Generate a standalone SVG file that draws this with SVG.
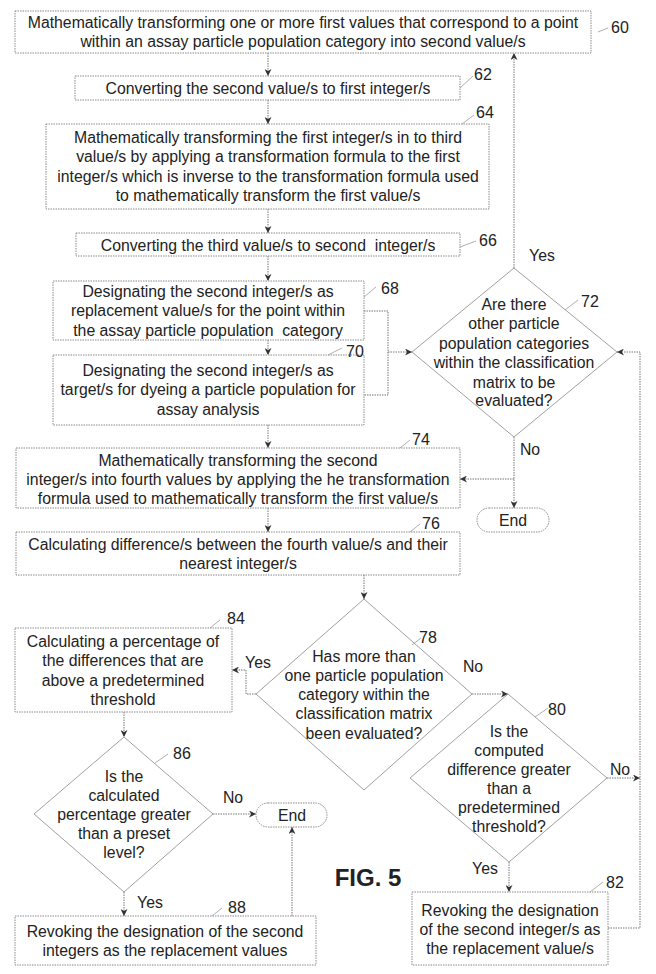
<svg xmlns="http://www.w3.org/2000/svg" width="656" height="974" viewBox="0 0 656 974">
<defs>
<marker id="ah" viewBox="0 0 10 10" refX="10" refY="5" markerWidth="7" markerHeight="7" markerUnits="userSpaceOnUse" orient="auto">
<path d="M0,0 L10,5 L0,10 L3,5 Z" fill="#333"/>
</marker>
<style>
.box{fill:#fff;stroke:#8a8a8a;stroke-width:1;stroke-dasharray:1.5 1}
.dia{fill:#fff;stroke:#a0a0a0;stroke-width:1}
.oval{fill:#fff;stroke:#8a8a8a;stroke-width:1;stroke-dasharray:1.5 1}
.c{fill:none;stroke:#777;stroke-width:1;stroke-dasharray:1.5 1}
.ca{fill:none;stroke:#777;stroke-width:1;stroke-dasharray:1.5 1;marker-end:url(#ah)}
.ld{fill:none;stroke:#999;stroke-width:0.8}
text{font-family:"Liberation Sans",Arial,sans-serif;font-size:15.8px;fill:#222;text-anchor:middle}
.lb{font-size:16px}
.fig{font-size:24px;font-weight:bold}
</style>
</defs>
<g id="connectors">
<line class="ca" x1="268" y1="53" x2="268" y2="76"/>
<line class="ca" x1="268" y1="100" x2="268" y2="124"/>
<line class="ca" x1="268" y1="209" x2="268" y2="233"/>
<line class="ca" x1="268" y1="256" x2="268" y2="281"/>
<line class="ca" x1="268" y1="340" x2="268" y2="355"/>
<line class="ca" x1="268" y1="425" x2="268" y2="448"/>
<line class="ca" x1="268" y1="508" x2="268" y2="532"/>
<line class="ca" x1="364" y1="575" x2="364" y2="599"/>
<polyline class="c" points="364,311 388,311 388,395 364,395"/>
<line class="ca" x1="388" y1="352" x2="412" y2="352"/>
<line class="ca" x1="514" y1="268" x2="514" y2="53"/>
<line class="ca" x1="514" y1="437" x2="514" y2="508"/>
<line class="ca" x1="514" y1="479" x2="460" y2="479"/>
<polyline class="ca" points="256,694 246,694 246,670 232,670"/>
<line class="ca" x1="472" y1="694" x2="508" y2="694"/>
<line class="ca" x1="607" y1="778" x2="640" y2="778"/>
<polyline class="ca" points="608,928 640,928 640,352 617,352"/>
<line class="ca" x1="509" y1="862" x2="509" y2="892"/>
<line class="ca" x1="124" y1="712" x2="124" y2="737"/>
<line class="ca" x1="213" y1="814" x2="256" y2="814"/>
<line class="ca" x1="124" y1="892" x2="124" y2="916"/>
<line class="ca" x1="292" y1="916" x2="292" y2="827"/>
</g>
<g id="n60">
<rect class="box" x="15" y="11" width="576" height="42"/>
<text x="303" y="28">Mathematically transforming one or more first values that correspond to a point</text>
<text x="303" y="47">within an assay particle population category into second value/s</text>
<line class="ld" x1="598" y1="32" x2="608" y2="28"/>
<text class="lb" x="620" y="33">60</text>
</g>
<g id="n62">
<rect class="box" x="75" y="76" width="385" height="24"/>
<text x="268" y="93.5">Converting the second value/s to first integer/s</text>
<line class="ld" x1="460" y1="88" x2="473" y2="76"/>
<text class="lb" x="483" y="80">62</text>
</g>
<g id="n64">
<rect class="box" x="46" y="124" width="443" height="85"/>
<text x="268" y="142.5">Mathematically transforming the first integer/s in to third</text>
<text x="268" y="162">value/s by applying a transformation formula to the first</text>
<text x="268" y="181.5">integer/s which is inverse to the transformation formula used</text>
<text x="268" y="201">to mathematically transform the first value/s</text>
<line class="ld" x1="462" y1="124" x2="474" y2="115"/>
<text class="lb" x="485" y="118">64</text>
</g>
<g id="n66">
<rect class="box" x="76" y="233" width="384" height="23"/>
<text x="268" y="250.5" xml:space="preserve">Converting the third value/s to second  integer/s</text>
<line class="ld" x1="460" y1="247" x2="476" y2="241"/>
<text class="lb" x="488" y="246">66</text>
</g>
<g id="n68">
<rect class="box" x="53" y="281" width="311" height="59"/>
<text x="208" y="296.5">Designating the second integer/s as</text>
<text x="208" y="316">replacement value/s for the point within</text>
<text x="208" y="335.5" xml:space="preserve">the assay particle population  category</text>
<line class="ld" x1="364" y1="297" x2="376" y2="287"/>
<text class="lb" x="390" y="294">68</text>
</g>
<g id="n70">
<rect class="box" x="53" y="355" width="311" height="70"/>
<text x="208" y="375.5">Designating the second integer/s as</text>
<text x="208" y="395">target/s for dyeing a particle population for</text>
<text x="208" y="414.5">assay analysis</text>
<line class="ld" x1="328" y1="355" x2="342" y2="348"/>
<text class="lb" x="355" y="357">70</text>
</g>
<g id="n72">
<polygon class="dia" points="514,268 617,352 514,437 412,352"/>
<text x="514" y="309.5">Are there</text>
<text x="514" y="329">other particle</text>
<text x="514" y="348.5">population categories</text>
<text x="514" y="368">within the classification</text>
<text x="514" y="387.5">matrix to be</text>
<text x="514" y="406">evaluated?</text>
<line class="ld" x1="565" y1="310" x2="578" y2="300"/>
<text class="lb" x="590" y="307">72</text>
<text x="542" y="261">Yes</text>
<text x="530" y="455">No</text>
</g>
<g id="n74">
<rect class="box" x="16" y="448" width="444" height="60"/>
<text x="238" y="465.5">Mathematically transforming the second</text>
<text x="238" y="484.5">integer/s into fourth values by applying the he transformation</text>
<text x="238" y="503.5">formula used to mathematically transform the first value/s</text>
<line class="ld" x1="400" y1="448" x2="410" y2="440"/>
<text class="lb" x="421" y="445">74</text>
</g>
<g id="endTop">
<rect class="oval" x="477" y="508" width="72" height="24" rx="12"/>
<text x="513" y="525.5">End</text>
</g>
<g id="n76">
<rect class="box" x="16" y="532" width="444" height="43"/>
<text x="238" y="549.5">Calculating difference/s between the fourth value/s and their</text>
<text x="238" y="568.5">nearest integer/s</text>
<line class="ld" x1="410" y1="532" x2="420" y2="524"/>
<text class="lb" x="431" y="529">76</text>
</g>
<g id="n78">
<polygon class="dia" points="364,599 472,694 364,790 256,694"/>
<text x="364" y="661.5">Has more than</text>
<text x="364" y="680.5">one particle population</text>
<text x="364" y="699.5">category within the</text>
<text x="364" y="718.5">classification matrix</text>
<text x="364" y="738.5">been evaluated?</text>
<line class="ld" x1="412" y1="645" x2="421" y2="638"/>
<text class="lb" x="428" y="643">78</text>
<text x="258" y="668">Yes</text>
<text x="473" y="672">No</text>
</g>
<g id="n80">
<polygon class="dia" points="508,694 607,778 509,862 410,778"/>
<text x="509" y="736.5">Is the</text>
<text x="509" y="755.5">computed</text>
<text x="509" y="774.5">difference greater</text>
<text x="509" y="793.5">than a</text>
<text x="509" y="812.5">predetermined</text>
<text x="509" y="831.5">threshold?</text>
<line class="ld" x1="535" y1="717" x2="548" y2="708"/>
<text class="lb" x="557" y="715">80</text>
<text x="620" y="775">No</text>
</g>
<g id="n82">
<rect class="box" x="412" y="892" width="196" height="73"/>
<text x="510" y="915.5">Revoking the designation</text>
<text x="510" y="934.5">of the second integer/s as</text>
<text x="510" y="953.5">the replacement value/s</text>
<line class="ld" x1="590" y1="892" x2="603" y2="882"/>
<text class="lb" x="615" y="888">82</text>
<text x="485" y="874">Yes</text>
</g>
<g id="n84">
<rect class="box" x="15" y="628" width="217" height="84"/>
<text x="123" y="646.5">Calculating a percentage of</text>
<text x="123" y="666">the differences that are</text>
<text x="123" y="685.5">above a predetermined</text>
<text x="123" y="704.5">threshold</text>
<line class="ld" x1="210" y1="628" x2="220" y2="620"/>
<text class="lb" x="236" y="624">84</text>
</g>
<g id="n86">
<polygon class="dia" points="124,737 213,814 124,892 34,814"/>
<text x="124" y="781.5">Is the</text>
<text x="124" y="800.5">calculated</text>
<text x="124" y="819.5">percentage greater</text>
<text x="124" y="838.5">than a preset</text>
<text x="124" y="857.5">level?</text>
<line class="ld" x1="155" y1="763" x2="168" y2="754"/>
<text class="lb" x="182" y="759">86</text>
<text x="233" y="803">No</text>
<text x="150" y="908">Yes</text>
</g>
<g id="endBottom">
<rect class="oval" x="256" y="803" width="71" height="24" rx="12"/>
<text x="292" y="820.5">End</text>
</g>
<g id="n88">
<rect class="box" x="15" y="916" width="301" height="49"/>
<text x="165" y="936.5">Revoking the designation of the second</text>
<text x="165" y="955.5">integers as the replacement values</text>
<line class="ld" x1="212" y1="916" x2="222" y2="908"/>
<text class="lb" x="237" y="913">88</text>
</g>
<g id="fig">
<text class="fig" x="368" y="886">FIG. 5</text>
</g>
</svg>
